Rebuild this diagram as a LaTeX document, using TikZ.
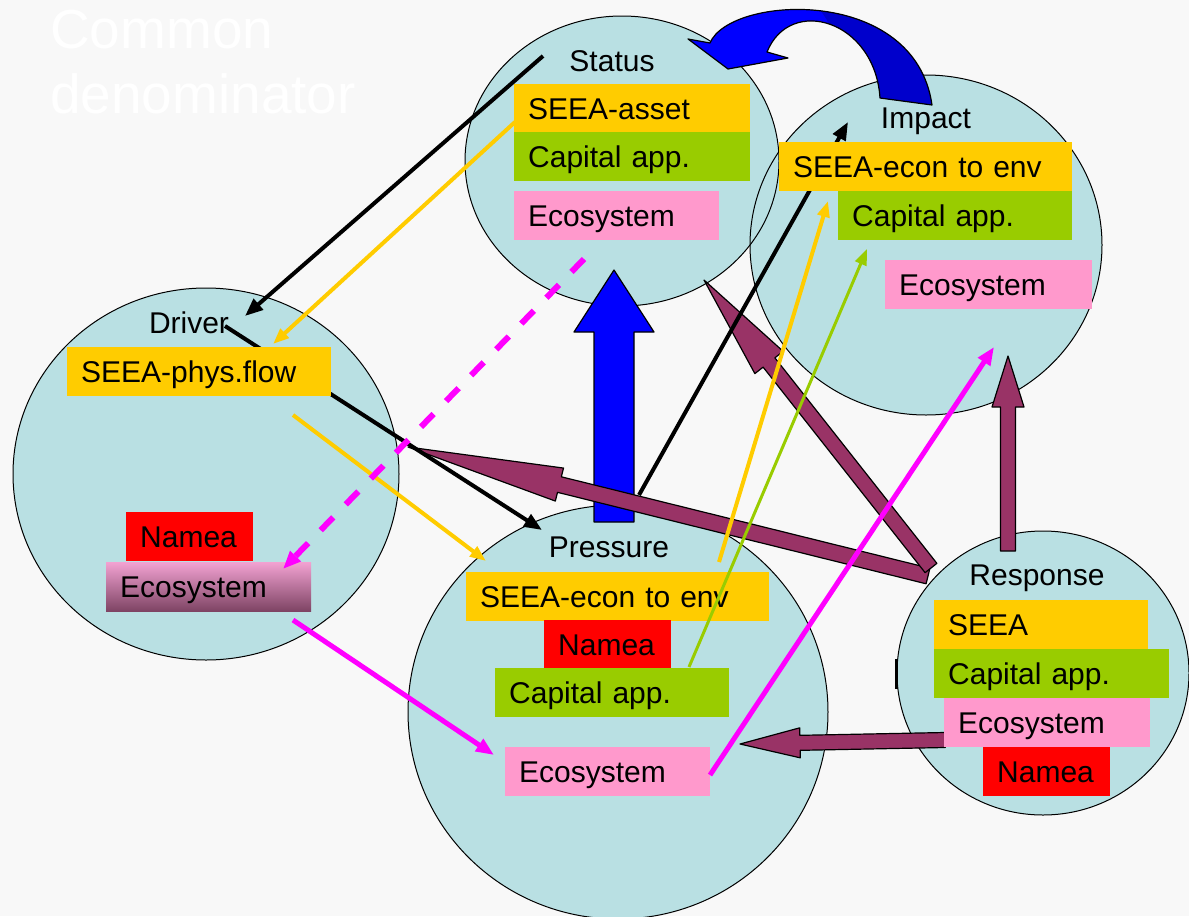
\documentclass[tikz,border=0pt]{standalone}
\usepackage{fontspec}
\setmainfont{Liberation Sans}
\usepackage{xcolor}
\usepackage{tikz}
\usetikzlibrary{shapes.geometric,arrows.meta,calc}
\definecolor{backgr}{HTML}{F8F8F8}
\definecolor{sky}{HTML}{B9E0E3}
\definecolor{seeayellow}{HTML}{FFCC00}
\definecolor{capgreen}{HTML}{99CC00}
\definecolor{ecopink}{HTML}{FF99CC}
\definecolor{nameared}{HTML}{FF0000}
\definecolor{maroon}{HTML}{993366}
\definecolor{deepblue}{HTML}{0000CC}
\definecolor{fullblue}{HTML}{0000FF}
\definecolor{ecomagenta}{HTML}{FF00FF}
\definecolor{ecotop}{HTML}{F2A2D2}
\definecolor{ecobottom}{HTML}{7E4464}
\tikzset{
	region/.style={ellipse, fill=sky, inner sep=0pt},
	rim/.style={ellipse, draw, line width=1pt, inner sep=0pt},
	box/.style={anchor=north west, minimum height=49pt, inner xsep=14pt, inner ysep=0pt, align=left, text height=21.5pt, text depth=0pt, font=\fontsize{30}{36}\selectfont},
	heading/.style={anchor=base, font=\fontsize{30}{36}\selectfont},
	link/.style={line width=4pt, -{Triangle[length=18pt,width=14pt]}},
	fat/.style={draw=black, line width=1.2pt, fill=maroon, line join=round},
}
\newcommand{\fatarrow}[6]{%
	\coordinate (fa-h) at ($(#3)!#5!(#2)$);
	\draw[#1] ($(#2)!#4!90:(#3)$) -- ($(fa-h)!#4!90:(#3)$) -- ($(fa-h)!#6!90:(#3)$) -- (#3)
		-- ($(fa-h)!#6!-90:(#3)$) -- ($(fa-h)!#4!-90:(#3)$) -- ($(#2)!#4!-90:(#3)$) -- cycle;}
\def\swing{(688,39) -- (710,43) .. controls (730,-5) and (915,-15) .. (932,105) -- (880,98) .. controls (875,20) and (790,-5) .. (767,52) -- (788,58) -- (728,69) -- cycle}
\begin{document}
\begin{tikzpicture}[x=1pt, y=-1pt]
	\useasboundingbox (0,0) rectangle (1189,916);
	\fill[backgr] (0,0) rectangle (1189,916);
	\node[anchor=north west, inner sep=0pt, align=left, text=white, font=\fontsize{55}{65}\selectfont] (common) at (50,10) {Common\\denominator};

	\def\regions{driver/206/474/386/372, status/622/161/314/290, impact/926/245/352/340, pressure/618/712/420/414, response/1043/673/292/284}
	\foreach \n/\x/\y/\w/\h in \regions
		\node[region, minimum width=\w, minimum height=\h] at (\x,\y) {};
	\foreach \n/\x/\y/\w/\h in \regions
		\node[rim, minimum width=\w, minimum height=\h] (\n) at (\x,\y) {};
	\draw[line width=3pt] (response.west) ++(0,-14) -- ++(0,30);

	\foreach \c/\x/\y in {st-blk/543/56, dr-blk/245/316, dr-blk2/225/326, pr-blk/542/530, pr-blk2/639/495, im-blk/848/122,
		st-yel/515/122, dr-yel/273/344, dr-yel2/293/415, pr-yel/486/561, pr-yel2/719/562, im-yel/828/201,
		pr-grn/689/667, im-grn/867/249, st-mag/584/259, dr-mag/283/569, dr-mag2/293/620, pr-mag/494/755, pr-mag2/710/775, im-mag/994/347,
		re-out/928/576, dr-in/408/447, re-out2/931/568, st-in/704/280, re-up/1008/551, im-in/1008/356, re-left/945/740, pr-in/740/744,
		pr-up/614/522, st-up/614/270}
		\coordinate (\c) at (\x,\y);

	\fatarrow{fat, fill=fullblue}{pr-up}{st-up}{20pt}{62pt}{40pt}
	\fill[fullblue] \swing;
	\begin{scope}
		\clip (810,-5) -- (960,-5) -- (960,130) -- (860,130) -- (827,20) -- cycle;
		\fill[deepblue] \swing;
	\end{scope}
	\draw[line width=1.2pt, line join=round] \swing;

	\fatarrow{fat}{re-out}{dr-in}{8pt}{156pt}{17pt}
	\fatarrow{fat}{re-out2}{st-in}{7.5pt}{105pt}{18pt}
	\fatarrow{fat}{re-up}{im-in}{7.5pt}{51pt}{16pt}
	\fatarrow{fat}{re-left}{pr-in}{7.5pt}{60pt}{15pt}

	\draw[link] (st-blk) -- (dr-blk);
	\draw[link] (dr-blk2) -- (pr-blk);
	\draw[link] (pr-blk2) -- (im-blk);

	\node[box, fill=seeayellow, text width=208pt] (st-seea) at (514,84) {SEEA-asset};
	\node[box, fill=capgreen, text width=208pt] (st-cap) at (514,132) {Capital app.};
	\node[box, fill=ecopink, text width=177pt] (st-eco) at (514,191) {Ecosystem};
	\node[box, fill=seeayellow, text width=265pt] (im-seea) at (779,142) {SEEA-econ to env};
	\node[box, fill=capgreen, text width=206pt] (im-cap) at (838,191) {Capital app.};
	\node[box, fill=ecopink, text width=179pt] (im-eco) at (885,260) {Ecosystem};
	\node[box, fill=seeayellow, text width=236pt] (dr-seea) at (67,347) {SEEA-phys.flow};
	\node[box, fill=nameared, text width=99pt] (dr-namea) at (126,512) {Namea};
	\node[box, top color=ecotop, bottom color=ecobottom, text width=177pt] (dr-eco) at (106,562) {Ecosystem};
	\node[box, fill=seeayellow, text width=275pt] (pr-seea) at (466,572) {SEEA-econ to env};
	\node[box, fill=nameared, text width=99pt] (pr-namea) at (544,620) {Namea};
	\node[box, fill=capgreen, text width=206pt] (pr-cap) at (495,668) {Capital app.};
	\node[box, fill=ecopink, text width=177pt] (pr-eco) at (505,747) {Ecosystem};
	\node[box, fill=seeayellow, text width=186pt] (re-seea) at (934,600) {SEEA};
	\node[box, fill=capgreen, text width=207pt] (re-cap) at (934,649) {Capital app.};
	\node[box, fill=ecopink, text width=178pt] (re-eco) at (944,698) {Ecosystem};
	\node[box, fill=nameared, text width=99pt] (re-namea) at (983,747) {Namea};

	\draw[link, seeayellow, -{Triangle[length=16pt,width=12pt]}] (st-yel) -- (dr-yel);
	\draw[link, seeayellow, -{Triangle[length=16pt,width=12pt]}] (dr-yel2) -- (pr-yel);
	\draw[link, seeayellow, -{Triangle[length=16pt,width=12pt]}] (pr-yel2) -- (im-yel);
	\draw[link, capgreen, line width=3pt, -{Triangle[length=16pt,width=12pt]}] (pr-grn) -- (im-grn);
	\draw[link, ecomagenta, line width=6pt, dash pattern=on 18pt off 18pt] (st-mag) -- (dr-mag);
	\draw[link, ecomagenta, line width=5pt] (dr-mag2) -- (pr-mag);
	\draw[link, ecomagenta, line width=5pt] (pr-mag2) -- (im-mag);

	\node[heading] (st-title) at (612,71) {Status};
	\node[heading] (im-title) at (926,128) {Impact};
	\node[heading] (dr-title) at (189,333) {Driver};
	\node[heading] (pr-title) at (609,557) {Pressure};
	\node[heading] (re-title) at (1037,585) {Response};
\end{tikzpicture}
\end{document}
